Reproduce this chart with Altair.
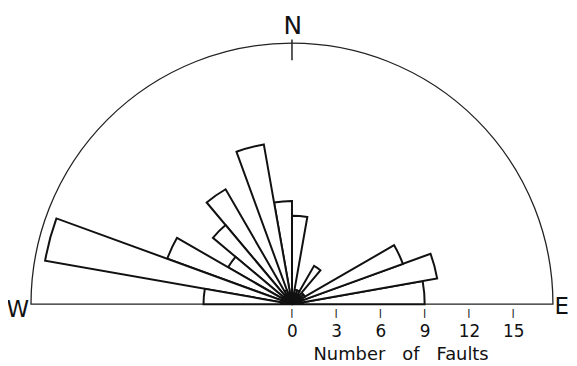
import altair as alt
import numpy as np
import pandas as pd

# ---- data ----
bin_start = [0, 10, 20, 30, 40, 50, 60, 70, 80, 90, 100, 110, 120, 130, 140, 150, 160, 170]
faults = [9, 10, 8, 1, 1, 3, 1, 1, 6, 7, 11, 1, 9, 7, 5, 9, 17, 6]
bin_width = 10
tick_values = [0, 3, 6, 9, 12, 15]
tick_mid = [-0.62] * len(tick_values)
tick_glyph = ["|"] * len(tick_values)
rim_faults = [17.7]

# compass / annotation labels (positions in "number of faults" units)
label_text = ["N", "W", "E"]
label_x = [0.05, -18.59, 17.8]
label_y = [18.32, -0.90, -0.67]
label_size = [25, 23, 23]
label_align = ["center", "center", "left"]

north_tick_x = [0]
north_tick_y = [17.95]
north_tick_y2 = [16.55]

title_text = ["Number\u00a0\u00a0\u00a0of\u00a0\u00a0\u00a0Faults"]
title_x = [7.4]
title_y = [-3.82]

# ---- layout ----
PX = 14.85          # pixels per fault
W_VIEW, H_VIEW = 565, 297
CX = 286            # centre in view px
x_dom = [-CX / PX, (W_VIEW - CX) / PX]
y_dom = [0, H_VIEW / PX]
FONT = "DejaVu Sans"

xs = alt.Scale(domain=x_dom, nice=False, zero=False)
ys = alt.Scale(domain=y_dom, nice=False, zero=False)
rs = alt.Scale(type="linear", domain=[0, rim_faults[0]], range=[0, rim_faults[0] * PX], zero=True)

wedges = pd.DataFrame({"start": bin_start, "faults": faults})
wedges["end"] = wedges["start"] + bin_width
wedges["t1"] = np.radians((90 - wedges["end"]) % 360)
wedges["t2"] = wedges["t1"] + np.radians(bin_width)

x_axis = alt.Axis(
    values=tick_values, domain=False, grid=False, ticks=False,
    labelFontSize=17, labelFont=FONT,
    labelColor="#111", labelPadding=14, offset=6, title=None,
)

ticks_df = pd.DataFrame({"v": tick_values, "ym": tick_mid, "g": tick_glyph})
tick_layer = alt.Chart(ticks_df).mark_text(
    font=FONT, fontSize=9, color="#111", align="center", baseline="middle", fontWeight="bold"
).encode(
    x=alt.X("v:Q", scale=xs, axis=x_axis),
    y=alt.Y("ym:Q", scale=ys, axis=None),
    text="g:N",
)

rim = alt.Chart(pd.DataFrame({"r": rim_faults})).mark_arc(
    filled=False, stroke="#222", strokeWidth=1.3,
    theta=3 * np.pi / 2, theta2=5 * np.pi / 2,
).encode(
    x=alt.X(datum=0, scale=xs, axis=x_axis),
    y=alt.Y(datum=0, scale=ys, axis=None),
    radius=alt.Radius("r:Q", scale=rs),
)

rose = alt.Chart(wedges).mark_arc(
    fill="white", stroke="#111", strokeWidth=2, strokeJoin="miter"
).encode(
    x=alt.X(datum=0, scale=xs, axis=x_axis),
    y=alt.Y(datum=0, scale=ys, axis=None),
    theta=alt.Theta("t1:Q", scale=None),
    theta2=alt.Theta2("t2:Q"),
    radius=alt.Radius("faults:Q", scale=rs),
)

north_tick = alt.Chart(pd.DataFrame({"x": north_tick_x, "y": north_tick_y, "y2": north_tick_y2})).mark_rule(
    color="#222", strokeWidth=1.5
).encode(
    x=alt.X("x:Q", scale=xs, axis=x_axis),
    y=alt.Y("y:Q", scale=ys, axis=None),
    y2="y2:Q",
)

lab_df = pd.DataFrame({"t": label_text, "x": label_x, "y": label_y, "s": label_size, "a": label_align})

labels = alt.Chart(lab_df).transform_filter("datum.a == 'center'").mark_text(
    font=FONT, color="#111", align="center", baseline="alphabetic"
).encode(
    x=alt.X("x:Q", scale=xs, axis=x_axis),
    y=alt.Y("y:Q", scale=ys, axis=None),
    text="t:N",
    size=alt.Size("s:Q", scale=None),
)

labels_left = alt.Chart(lab_df).transform_filter("datum.a == 'left'").mark_text(
    font=FONT, color="#111", align="left", baseline="alphabetic"
).encode(
    x=alt.X("x:Q", scale=xs, axis=x_axis),
    y=alt.Y("y:Q", scale=ys, axis=None),
    text="t:N",
    size=alt.Size("s:Q", scale=None),
)

title = alt.Chart(pd.DataFrame({"t": title_text, "x": title_x, "y": title_y})).mark_text(
    font=FONT, fontSize=18, color="#111", align="center", baseline="alphabetic"
).encode(
    x=alt.X("x:Q", scale=xs, axis=x_axis),
    y=alt.Y("y:Q", scale=ys, axis=None),
    text="t:N",
)

chart = alt.layer(rim, rose, north_tick, labels, labels_left, title, tick_layer).properties(
    width=W_VIEW, height=H_VIEW,
    autosize=alt.AutoSizeParams(type="none"),
    padding={"left": 0, "top": 0, "right": 0, "bottom": 61},
    background="white",
).configure_view(stroke=None)

chart.save("out.html", embed_options={"renderer": "svg", "actions": False})
